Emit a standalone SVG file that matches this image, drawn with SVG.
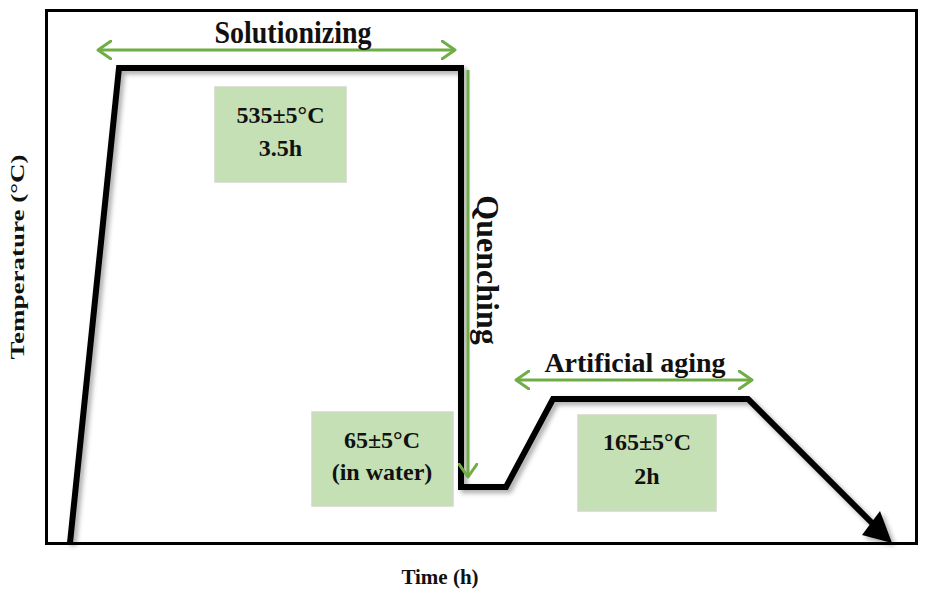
<svg xmlns="http://www.w3.org/2000/svg" width="926" height="597" viewBox="0 0 926 597">
  <style>
    .lbl { font-family: "Liberation Serif", "Times New Roman", serif; font-weight: bold; fill: #111; }
    .box rect { fill: #C5E0B4; stroke: #cfd8c8; stroke-width: 1.5; }
    .box text { font-family: "Liberation Serif", "Times New Roman", serif; font-weight: bold; font-size: 24px; fill: #111; text-anchor: middle; }
    .green { stroke: #70AD47; stroke-width: 3; fill: none; }
  </style>
  <defs>
    <marker id="chev" viewBox="-14 -10 16 20" markerWidth="16" markerHeight="20" refX="0" refY="0" orient="auto-start-reverse" markerUnits="userSpaceOnUse">
      <path d="M-13,-9 L0,0 L-13,9" fill="none" stroke="#70AD47" stroke-width="3" stroke-linecap="round" stroke-linejoin="round"/>
    </marker>
    <filter id="shadow" x="-10%" y="-10%" width="120%" height="120%">
      <feDropShadow dx="3" dy="3" stdDeviation="2.5" flood-color="#000" flood-opacity="0.35"/>
    </filter>
  </defs>
  <rect x="0" y="0" width="926" height="597" fill="#ffffff"/>

  <g id="frame">
    <rect x="46.5" y="10.5" width="870" height="533" fill="none" stroke="#000" stroke-width="3"/>
  </g>

  <g id="connectors">
    <g id="profile" filter="url(#shadow)">
      <polyline points="70,543 119,68 461,68 461,487 506,487 553,399 748,399 873,524" fill="none" stroke="#000" stroke-width="6" stroke-linejoin="miter"/>
      <polygon points="892,543 880,511 862,535" fill="#000"/>
    </g>
    <line id="sol-arrow" class="green" x1="98" y1="50" x2="455" y2="50" marker-start="url(#chev)" marker-end="url(#chev)"/>
    <line id="quench-arrow" class="green" x1="468" y1="70" x2="468" y2="477" marker-end="url(#chev)"/>
    <line id="age-arrow" class="green" x1="516" y1="380" x2="752" y2="380" marker-start="url(#chev)" marker-end="url(#chev)"/>
  </g>

  <g id="label-solutionizing">
    <text class="lbl" font-size="28" text-anchor="middle" transform="translate(293,43) scale(1,1.1)">Solutionizing</text>
  </g>
  <g id="label-quenching">
    <text class="lbl" font-size="32" text-anchor="middle" transform="translate(477,270) rotate(90)">Quenching</text>
  </g>
  <g id="label-aging">
    <text class="lbl" x="635" y="372" font-size="28" text-anchor="middle">Artificial aging</text>
  </g>

  <g id="box-solution" class="box">
    <rect x="215" y="87" width="131" height="95"/>
    <text x="280.5" y="123">535±5°C</text>
    <text x="280.5" y="156">3.5h</text>
  </g>
  <g id="box-quench" class="box">
    <rect x="312" y="412" width="141" height="94"/>
    <text x="382" y="448">65±5°C</text>
    <text x="382" y="480">(in water)</text>
  </g>
  <g id="box-aging" class="box">
    <rect x="578" y="415" width="138" height="96"/>
    <text x="647" y="450">165±5°C</text>
    <text x="647" y="484">2h</text>
  </g>

  <g id="axis-y">
    <text class="lbl" font-size="19" text-anchor="middle" transform="translate(24,257) rotate(-90)" textLength="205" lengthAdjust="spacingAndGlyphs">Temperature (°C)</text>
  </g>
  <g id="axis-x">
    <text class="lbl" x="440" y="584" font-size="21" text-anchor="middle">Time (h)</text>
  </g>
</svg>
